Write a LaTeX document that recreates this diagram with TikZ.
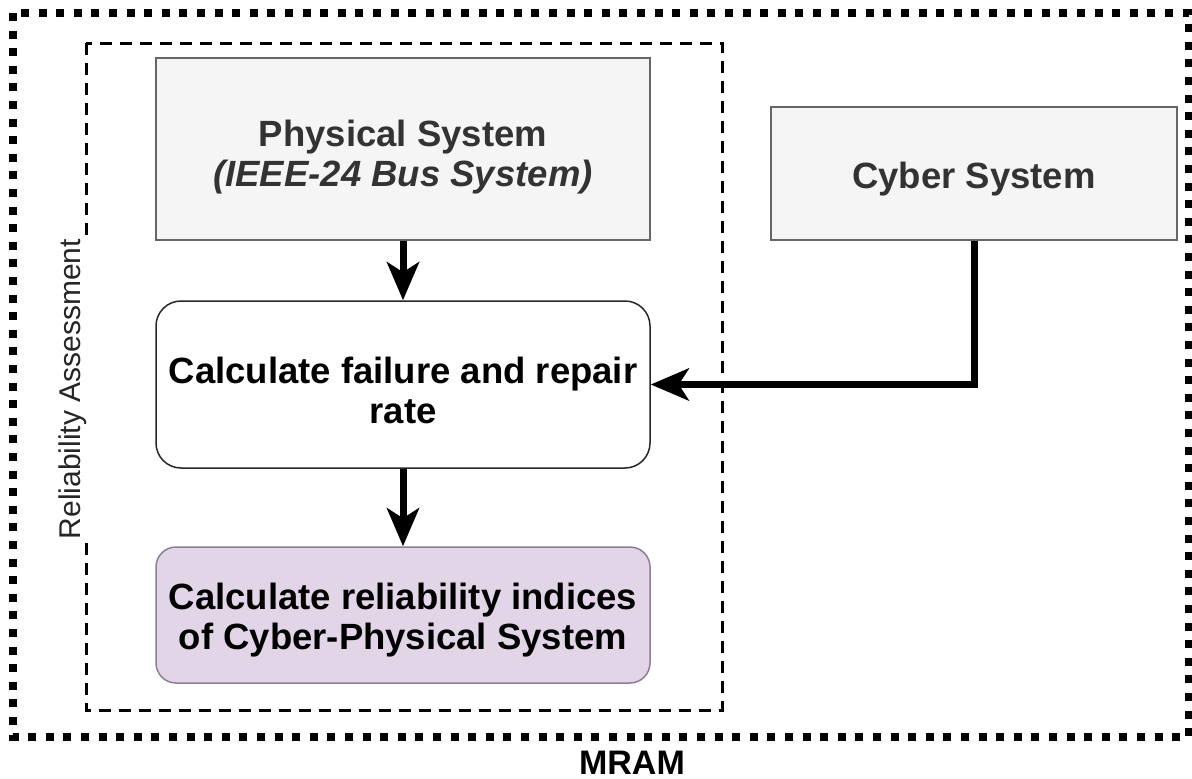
\documentclass[tikz,border=0pt]{standalone}
\usepackage{fontspec}
\setmainfont{Liberation Sans}
\usetikzlibrary{arrows.meta}
\definecolor{grayfill}{HTML}{F5F5F5}
\definecolor{graystroke}{HTML}{666666}
\definecolor{graytext}{HTML}{333333}
\definecolor{purfill}{HTML}{E1D5E7}
\definecolor{purstroke}{HTML}{8E7F95}
\begin{document}
\begin{tikzpicture}[x=1pt,y=-1pt,
  box/.style={draw, line width=1.5pt, align=center, inner sep=0pt,
    font=\fontsize{36.5}{40}\selectfont\bfseries, text depth=8pt},
  graybox/.style={box, fill=grayfill, draw=graystroke, text=graytext},
  conn/.style={line width=7pt, -{Stealth[length=38pt,width=32pt,inset=10pt]}},
]
\useasboundingbox (0,0) rectangle (1192,779);
% outer MRAM frame
\draw[line width=8pt, dash pattern=on 8pt off 9.6pt] (13,13) rectangle (1189,737);
% inner reliability assessment frame
\draw[line width=3pt, dash pattern=on 12pt off 8pt] (86,43) rectangle (722,710);

\node[graybox, minimum width=494pt, minimum height=182pt, text height=82pt] (phys) at (403,149)
  {Physical System\\\itshape (IEEE-24 Bus System)};
\node[graybox, minimum width=406pt, minimum height=133pt, text height=37pt] (cyb) at (974,173.5)
  {Cyber System};
\node[box, draw=black!85, rounded corners=25pt, minimum width=494pt, minimum height=167pt, text height=85pt] (fail) at (403,384.5)
  {Calculate failure and repair\\rate};
\node[box, fill=purfill, draw=purstroke, rounded corners=20pt, minimum width=494pt, minimum height=136pt, text height=76pt] (rel) at (403,615)
  {Calculate reliability indices\\of Cyber-Physical System};

\node[rotate=90, fill=white, inner sep=2pt, text=black!85,
  font=\fontsize{30}{34}\selectfont] (ra) at (73,389) {Reliability Assessment};
\node[anchor=base, inner sep=0pt, font=\fontsize{34}{38}\selectfont\bfseries] (mram) at (632,774) {MRAM};

\draw[conn] (phys.south) -- (fail.north);
\draw[conn] (fail.south) -- (rel.north);
\draw[conn] (cyb.south) |- (fail.east);
\end{tikzpicture}
\end{document}
